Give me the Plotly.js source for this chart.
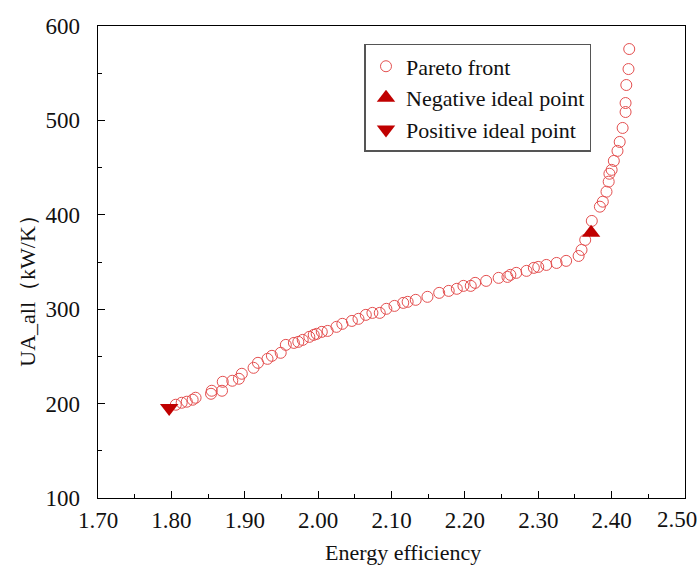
<!DOCTYPE html>
<html>
<head>
<meta charset="utf-8">
<script src="https://cdn.plot.ly/plotly-3.0.1.min.js"></script>
<style>html,body{margin:0;padding:0;background:#fff;}#chart{width:700px;height:569px;}</style>
</head>
<body>
<div id="chart"></div>
<script>
// Pareto front: energy efficiency vs UA_all (kW/K)
const paretoEfficiency = [1.806,1.814,1.821,1.829,1.833,1.854,1.855,1.869,1.870,1.883,1.892,1.896,1.912,1.918,1.931,1.937,1.949,1.956,1.967,1.973,1.979,1.988,1.994,1.998,2.005,2.013,2.025,2.033,2.046,2.055,2.065,2.074,2.084,2.093,2.104,2.116,2.122,2.133,2.149,2.165,2.178,2.189,2.198,2.208,2.214,2.229,2.246,2.258,2.262,2.270,2.284,2.294,2.300,2.311,2.325,2.338,2.355,2.359,2.364,2.373,2.384,2.388,2.393,2.396,2.397,2.400,2.403,2.408,2.411,2.415,2.419,2.419,2.420,2.423,2.424];
const paretoUA = [198.8,200.9,202.0,204.1,206.2,210.4,213.6,213.6,223.1,224.2,226.3,231.6,237.9,243.2,247.4,250.6,253.8,262.2,264.3,265.4,267.5,270.7,272.8,273.9,276.0,277.0,281.3,284.5,287.6,289.8,294.0,296.1,296.1,300.4,303.5,306.7,307.8,309.9,313.1,317.3,319.4,321.6,324.7,324.7,327.9,330.0,333.2,334.2,336.4,338.5,340.6,343.8,344.8,346.9,349.0,351.2,356.4,362.8,373.4,393.5,408.6,413.9,424.5,435.1,443.5,447.6,457.1,467.7,477.2,492.0,508.9,518.4,537.5,554.4,575.6];
const negativeIdealEff = [2.372];
const negativeIdealUA = [380.9];
const positiveIdealEff = [1.797];
const positiveIdealUA = [195.3];
const xTickVals = [1.70,1.80,1.90,2.00,2.10,2.20,2.30,2.40,2.50];
const xTickText = ['1.70','1.80','1.90','2.00','2.10','2.20','2.30','2.40',''];
const xLastTickText = '2.50';
const yTickVals = [100,200,300,400,500,600];
const xTitle = 'Energy efficiency';
const yTitle = 'UA_all（kW/K）';

const serif = 'Liberation Serif, Times New Roman, serif';
const traces = [
  {x: paretoEfficiency, y: paretoUA, mode: 'markers', type: 'scatter', name: 'Pareto front',
   marker: {symbol: 'circle-open', size: 11, color: 'rgb(228,80,80)', line: {width: 1, color: 'rgb(228,80,80)'}}},
  {x: negativeIdealEff, y: negativeIdealUA, mode: 'markers', type: 'scatter', name: 'Negative ideal point',
   marker: {symbol: 'triangle-up', size: 16, color: '#c00000'}},
  {x: positiveIdealEff, y: positiveIdealUA, mode: 'markers', type: 'scatter', name: 'Positive ideal point',
   marker: {symbol: 'triangle-down', size: 16, color: '#c00000'}}
];
const axisCommon = {
  showgrid: false, zeroline: false, showline: true, linecolor: '#000', linewidth: 1.3,
  mirror: true, ticks: 'inside', ticklen: 7, tickwidth: 1.2, tickcolor: '#000',
  tickfont: {family: serif, size: 23, color: '#111'}
};
const layout = {
  width: 700, height: 569,
  margin: {l: 98, r: 15, t: 26, b: 71},
  paper_bgcolor: '#fff', plot_bgcolor: '#fff',
  showlegend: true,
  xaxis: Object.assign({}, axisCommon, {
    range: [1.70, 2.50], tickvals: xTickVals, ticktext: xTickText,
    ticklabelstandoff: 1,
    minor: {ticks: 'inside', ticklen: 4, tickwidth: 1, tickcolor: '#000', dtick: 0.05, tick0: 1.75, showgrid: false}
  }),
  yaxis: Object.assign({}, axisCommon, {
    range: [100, 600], tickvals: yTickVals, ticklabelstandoff: 12,
    minor: {ticks: 'inside', ticklen: 4, tickwidth: 1, tickcolor: '#000', dtick: 50, tick0: 150, showgrid: false}
  }),
  annotations: [
    {text: xLastTickText, xref: 'x', yref: 'paper', x: 2.50, y: -0.046, xanchor: 'center', yanchor: 'middle',
     xshift: -8, showarrow: false, font: {family: serif, size: 23, color: '#111'}},
    {text: xTitle, xref: 'paper', yref: 'paper', x: 0.519, y: -0.116, xanchor: 'center', yanchor: 'middle',
     showarrow: false, font: {family: serif, size: 22, color: '#111'}},
    {text: yTitle, xref: 'paper', yref: 'paper', x: -0.12, y: 0.451, xanchor: 'center', yanchor: 'middle',
     textangle: -90, showarrow: false, font: {family: serif, size: 22, color: '#111'}}
  ],
  legend: {
    x: 0.454, y: 0.962, xanchor: 'left', yanchor: 'top',
    bgcolor: '#fff', bordercolor: '#555', borderwidth: 1.5,
    font: {family: serif, size: 22, color: '#111'}, tracegroupgap: 0
  }
};
Plotly.newPlot('chart', traces, layout, {displayModeBar: false, staticPlot: true});
</script>
</body>
</html>
